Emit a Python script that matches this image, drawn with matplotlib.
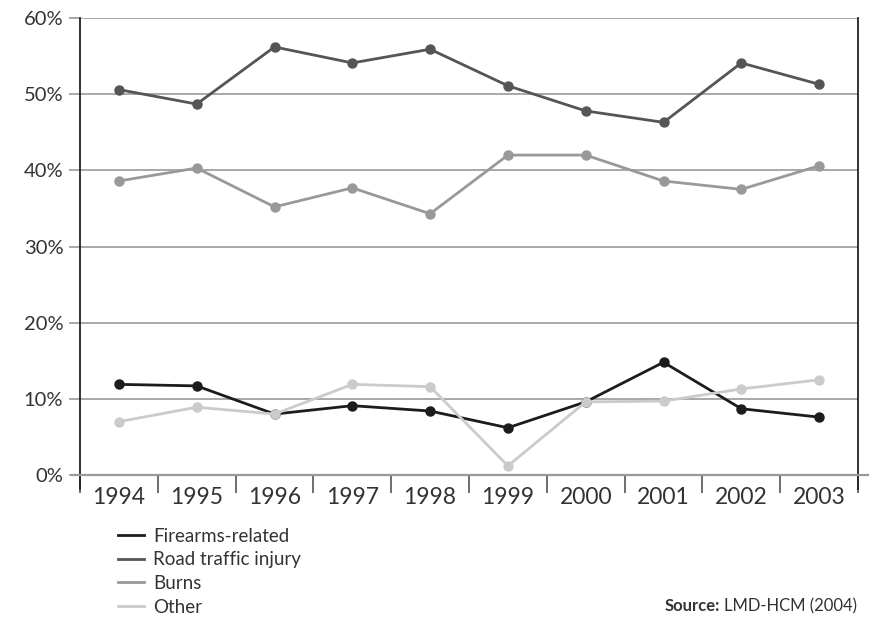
import matplotlib.pyplot as plt
import numpy as np

years = ["1994", "1995", "1996", "1997", "1998", "1999", "2000", "2001", "2002", "2003"]
firearms = [11.9, 11.7, 8.0, 9.1, 8.4, 6.2, 9.6, 14.8, 8.7, 7.6]
road = [50.6, 48.7, 56.2, 54.1, 55.9, 51.1, 47.8, 46.3, 54.1, 51.3]
burns = [38.6, 40.3, 35.2, 37.7, 34.3, 42.0, 42.0, 38.6, 37.5, 40.6]
other = [7.0, 8.9, 8.0, 11.9, 11.6, 1.2, 9.6, 9.7, 11.3, 12.5]

series = [("Firearms-related", firearms, "#1c1c1c"),
          ("Road traffic injury", road, "#555555"),
          ("Burns", burns, "#999999"),
          ("Other", other, "#cbcbcb")]

plt.rcParams['font.family'] = ['Lato', 'DejaVu Sans']

fig = plt.figure(figsize=(8.74, 6.19), dpi=100)
ax = fig.add_axes([80/874, 1-475/619, (858-80)/874, (475-18)/619])

x = np.arange(len(years))
for name, vals, col in series:
    ax.plot(x, vals, color=col, lw=2, marker='o', ms=6.5, label=name, zorder=3)

ax.set_xlim(-0.5, len(years)-0.5)
ax.set_ylim(0, 60)
ax.set_yticks(range(0, 61, 10))
ax.set_yticklabels([f"{v}%" for v in range(0, 61, 10)], fontsize=14.5, color='#333333')
ax.yaxis.grid(True, color='#999999', lw=1.2)
ax.set_axisbelow(True)
ax.tick_params(axis='y', length=8, width=1.2, color='#999999', pad=4)

ax.set_xticks(x)
ax.set_xticklabels(years, fontsize=16.5, color='#333333')
ax.set_xticks(np.arange(-0.5, len(years)), minor=True)
ax.tick_params(axis='x', which='major', length=0, pad=9)
ax.tick_params(axis='x', which='minor', length=13, width=1.2, color='#555555', direction='out')

for s in ax.spines.values():
    s.set_visible(False)
# vertical frame lines extend a bit below the zero line
ax.plot([0, 0], [-0.03, 1], transform=ax.transAxes, color='#222222', lw=1.3, clip_on=False)
ax.plot([1, 1], [-0.03, 1], transform=ax.transAxes, color='#222222', lw=1.3, clip_on=False)
ax.plot([-0.01, 1.013], [0, 0], transform=ax.transAxes, color='#999999', lw=1.6, clip_on=False, zorder=2)

leg = fig.legend(loc='upper left', bbox_to_anchor=(110/874, 1-520/619), frameon=False,
                 fontsize=13.5, handlelength=1.4, handletextpad=0.5, labelspacing=0.36,
                 markerscale=0, borderaxespad=0)
for h in leg.legend_handles:
    h.set_marker('')
for t in leg.get_texts():
    t.set_color('#333333')

t2 = fig.text(857/874, 1-611/619, "LMD-HCM (2004)", ha='right', va='baseline',
              fontsize=12, color='#333333')
fig.canvas.draw()
bb = t2.get_window_extent()
fig.text((bb.x0 - 4)/874, 1-611/619, "Source:", ha='right', va='baseline',
         fontsize=12, fontweight='bold', color='#333333')

fig.savefig("out.png", dpi=100)
